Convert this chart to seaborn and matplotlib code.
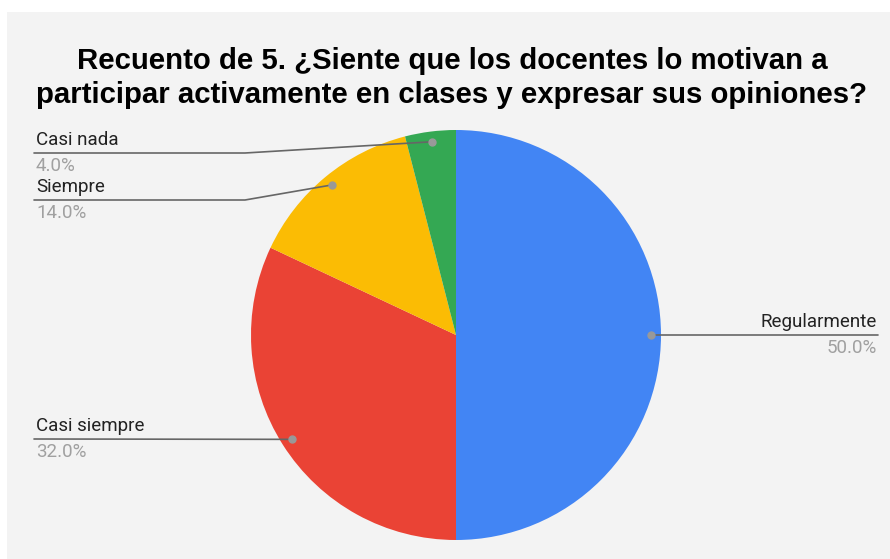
import matplotlib
matplotlib.use("Agg")
import matplotlib.pyplot as plt
import seaborn as sns
import numpy as np
from matplotlib.patches import Rectangle

# Data
categorias = ["Regularmente", "Casi siempre", "Siempre", "Casi nada"]
recuento = [25, 16, 7, 2]
colores = ["#4285F4", "#EA4335", "#FBBC04", "#34A853"]
titulo = ("Recuento de 5. ¿Siente que los docentes lo motivan a\n"
          "participar activamente en clases y expresar sus opiniones?")

sns.set_theme(style="white")
plt.rcParams['font.family'] = ['Roboto', 'DejaVu Sans']

W, H = 890, 559
fig = plt.figure(figsize=(W / 100, H / 100), dpi=100, facecolor="white")
fig.patches.append(Rectangle((7 / W, 0), 1 - 7 / W, 1 - 12 / H,
                             transform=fig.transFigure, facecolor="#f3f3f3",
                             edgecolor="none", zorder=-10))

# pie axes, center (456, 335) px, radius 205 px
cx, cy, r = 456, 335, 205
ax = fig.add_axes([(cx - r) / W, (H - cy - r) / H, 2 * r / W, 2 * r / H])
ax.set_facecolor("none")
ax.pie(recuento, colors=sns.color_palette(colores), startangle=90,
       counterclock=False, radius=1.0, wedgeprops=dict(linewidth=0))
ax.set_xlim(-1, 1)
ax.set_ylim(-1, 1)
ax.set_aspect("equal")
ax.axis("off")

fig.text(452 / W, 1 - 78 / H, titulo, ha="center", va="center",
         fontsize=21.2, fontweight="bold", family=["Liberation Sans", "DejaVu Sans"],
         color="#000000", linespacing=1.28)

def px(x, y):
    return (x - cx) / r, (cy - y) / r

total = sum(recuento)
fracs = np.array(recuento) / total
cum = np.cumsum(fracs) - fracs / 2
# label layout: (side, line y px, elbow x px)
layout = {
    "Regularmente": ("right", 335, None),
    "Casi siempre": ("left", 439, None),
    "Siempre": ("left", 200, 245),
    "Casi nada": ("left", 153, 245),
}
for cat, f, mid in zip(categorias, fracs, cum):
    ang = np.deg2rad(90 - mid * 360)
    dx, dy = 0.95 * np.cos(ang), 0.95 * np.sin(ang)
    side, ly, elbow = layout[cat]
    end_x = 34 if side == "left" else 878
    _, ly_d = px(0, ly)
    ex, _ = px(end_x, 0)
    xs, ys = [dx], [dy]
    if elbow is not None:
        bx, _ = px(elbow, 0)
        xs.append(bx)
        ys.append(ly_d)
    xs.append(ex)
    ys.append(ly_d)
    ax.plot(xs, ys, color="#666666", lw=1.2, clip_on=False, zorder=3)
    ax.plot([dx], [dy], "o", color="#999999", ms=5, clip_on=False, zorder=4)
    tx = px(36 if side == "left" else 877, 0)[0]
    ha = "left" if side == "left" else "right"
    ax.text(tx, px(0, ly - 13)[1], cat, ha=ha, va="center", fontsize=13.5,
            color="#222222", clip_on=False)
    ax.text(tx, px(0, ly + 13)[1], f"{f * 100:.1f}%", ha=ha, va="center",
            fontsize=13.5, color="#a0a0a0", clip_on=False)

fig.savefig("out.png", dpi=100, facecolor=fig.get_facecolor())
